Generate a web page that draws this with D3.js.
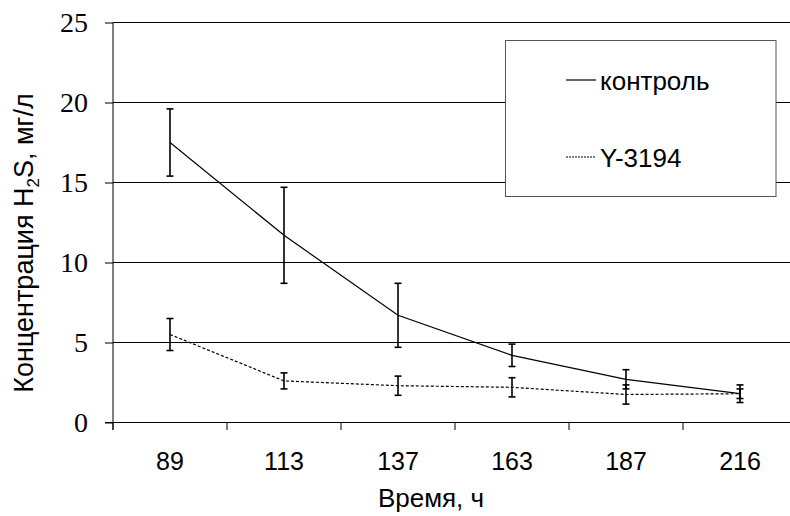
<!DOCTYPE html>
<html>
<head>
<meta charset="utf-8">
<script src="https://cdn.jsdelivr.net/npm/d3@7/dist/d3.min.js"></script>
<style>
  html, body { margin: 0; padding: 0; background: #fff; }
  svg { display: block; }
</style>
</head>
<body>
<svg id="chart" width="790" height="516"></svg>
<script>
const categories = ["89", "113", "137", "163", "187", "216"];
const controlValues = [17.5, 11.7, 6.7, 4.2, 2.7, 1.8];
const controlErrors = [2.1, 3.0, 2.0, 0.7, 0.6, 0.3];
const y3194Values = [5.5, 2.6, 2.3, 2.2, 1.75, 1.8];
const y3194Errors = [1.0, 0.5, 0.6, 0.6, 0.6, 0.55];
const yTicks = [0, 5, 10, 15, 20, 25];
const seriesNames = ["контроль", "Y-3194"];

const svg = d3.select("#chart");
const pLeft = 113, pRight = 797, pTop = 22.5, pBottom = 422.5;

const x = d3.scaleBand().domain(categories).range([pLeft, pRight]).padding(0);
const y = d3.scaleLinear().domain([0, 25]).range([pBottom, pTop]);
const cx = c => x(c) + x.bandwidth() / 2;

// gridlines
svg.append("g").selectAll("line").data(yTicks.filter(v => v > 0)).join("line")
  .attr("x1", pLeft).attr("x2", 790)
  .attr("y1", d => y(d)).attr("y2", d => y(d))
  .attr("stroke", "#000").attr("stroke-width", 1);

// y axis
const yAxis = svg.append("g").attr("transform", `translate(${pLeft},0)`)
  .call(d3.axisLeft(y).tickValues(yTicks).tickSize(8).tickPadding(17).tickFormat(d3.format("d")));
yAxis.select(".domain").attr("d", `M0,${pTop}V${pBottom + 7.5}`).attr("stroke", "#000");
yAxis.selectAll(".tick line").attr("stroke", "#000");
yAxis.selectAll(".tick text")
  .attr("font-family", "'Liberation Serif', 'Times New Roman', serif")
  .attr("font-size", 28).attr("fill", "#000");

// x axis line
svg.append("line").attr("x1", pLeft - 8).attr("x2", 790)
  .attr("y1", pBottom).attr("y2", pBottom).attr("stroke", "#000");

// x edge ticks
const edges = categories.map(c => x(c)).concat([pRight]);
svg.append("g").selectAll("line").data(edges).join("line")
  .attr("x1", d => d).attr("x2", d => d)
  .attr("y1", pBottom).attr("y2", pBottom + 7.5)
  .attr("stroke", "#000");

// x tick labels
const xAxis = svg.append("g").attr("transform", `translate(0,${pBottom})`)
  .call(d3.axisBottom(x).tickSize(0).tickPadding(30));
xAxis.select(".domain").remove();
xAxis.selectAll(".tick text")
  .attr("font-family", "'Liberation Sans', Arial, sans-serif")
  .attr("font-size", 25).attr("fill", "#000");

// lines
const line = d3.line().x((d, i) => cx(categories[i])).y(d => y(d));
svg.append("path").datum(controlValues).attr("d", line)
  .attr("fill", "none").attr("stroke", "#000").attr("stroke-width", 1.2);
svg.append("path").datum(y3194Values).attr("d", line)
  .attr("fill", "none").attr("stroke", "#000").attr("stroke-width", 1.2)
  .attr("stroke-dasharray", "3,2");

// error bars
function errorBars(vals, errs) {
  const g = svg.append("g").attr("stroke", "#000").attr("stroke-width", 1.6);
  vals.forEach((v, i) => {
    const px = cx(categories[i]);
    g.append("line").attr("x1", px).attr("x2", px).attr("y1", y(v + errs[i])).attr("y2", y(v - errs[i]));
    g.append("line").attr("x1", px - 3.5).attr("x2", px + 3.5).attr("y1", y(v + errs[i])).attr("y2", y(v + errs[i]));
    g.append("line").attr("x1", px - 3.5).attr("x2", px + 3.5).attr("y1", y(v - errs[i])).attr("y2", y(v - errs[i]));
  });
}
errorBars(controlValues, controlErrors);
errorBars(y3194Values, y3194Errors);

// legend
svg.append("rect").attr("x", 505.5).attr("y", 40.5).attr("width", 270.5).attr("height", 156)
  .attr("fill", "#fff").attr("stroke", "#555").attr("stroke-width", 1);
const legY = [80, 157];
svg.append("line").attr("x1", 566).attr("x2", 596).attr("y1", legY[0]).attr("y2", legY[0])
  .attr("stroke", "#000").attr("stroke-width", 1.2);
svg.append("line").attr("x1", 566).attr("x2", 596).attr("y1", legY[1]).attr("y2", legY[1])
  .attr("stroke", "#000").attr("stroke-width", 1.2).attr("stroke-dasharray", "2,1");
svg.append("g").selectAll("text").data(seriesNames).join("text")
  .attr("x", 600).attr("y", (d, i) => legY[i] + 10)
  .attr("font-family", "'Liberation Sans', Arial, sans-serif")
  .attr("font-size", 26).attr("fill", "#000").text(d => d);

// axis titles
svg.append("text").attr("x", 431).attr("y", 507).attr("text-anchor", "middle")
  .attr("font-family", "'Liberation Sans', Arial, sans-serif")
  .attr("font-size", 26).attr("fill", "#000").text("Время, ч");

const yt = svg.append("text").attr("transform", "translate(33,243) rotate(-90)")
  .attr("text-anchor", "middle")
  .attr("font-family", "'Liberation Sans', Arial, sans-serif")
  .attr("font-size", 27).attr("fill", "#000");
yt.append("tspan").text("Концентрация H");
yt.append("tspan").attr("font-size", 17).attr("dy", 6).text("2");
yt.append("tspan").attr("dy", -6).text("S, мг/л");
</script>
</body>
</html>
